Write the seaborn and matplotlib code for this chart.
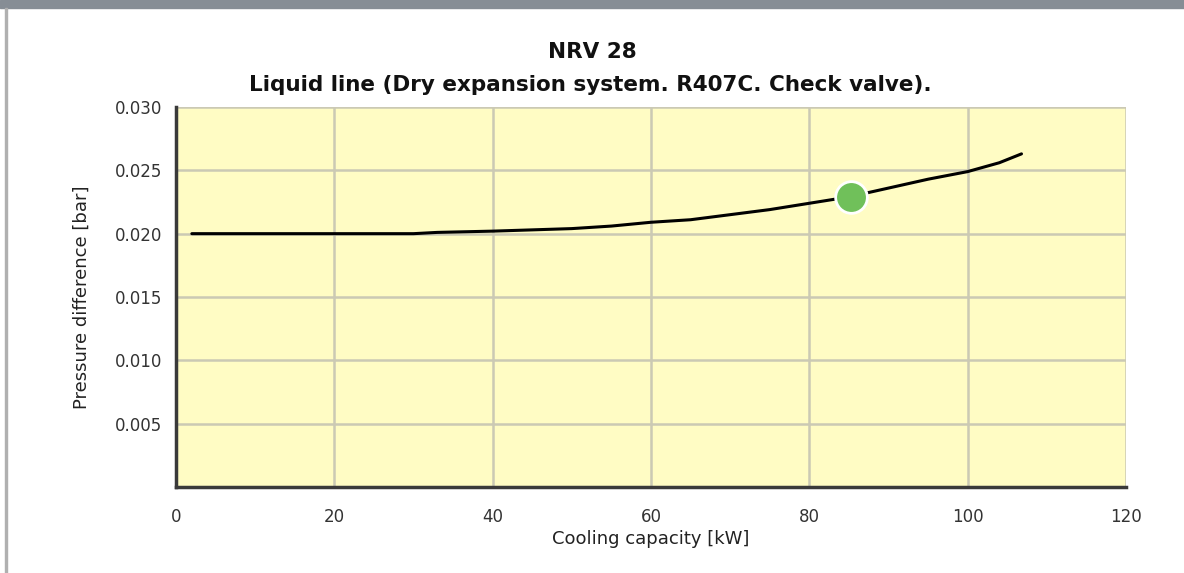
import matplotlib
matplotlib.use("Agg")
import matplotlib.pyplot as plt
import seaborn as sns
import pandas as pd
from matplotlib.patches import Rectangle

# Data
capacity_kw = [2, 10, 20, 30, 33, 40, 45, 50, 55, 60, 65, 70, 75, 80, 85, 90, 95, 100, 104, 106.8]
pressure_bar = [0.0200, 0.0200, 0.0200, 0.0200, 0.0201, 0.0202, 0.0203, 0.0204, 0.0206, 0.0209,
                0.0211, 0.0215, 0.0219, 0.0224, 0.0229, 0.0236, 0.0243, 0.0249, 0.0256, 0.0263]
point_kw = [85.3]
point_bar = [0.0229]
x_ticks = [0, 20, 40, 60, 80, 100, 120]
y_ticks = [0.005, 0.010, 0.015, 0.020, 0.025, 0.030]
y_tick_labels = ["0.005", "0.010", "0.015", "0.020", "0.025", "0.030"]
title_line1 = "NRV 28"
title_line2 = "Liquid line (Dry expansion system. R407C. Check valve)."

sns.set_theme(style="white")
plt.rcParams['font.family'] = ['DejaVu Sans']

fig = plt.figure(figsize=(11.84, 5.73), dpi=100)
ax = fig.add_axes([176/1184, 1 - 487/573, (1126-176)/1184, (487-107)/573])

curve = pd.DataFrame({"kw": capacity_kw, "bar": pressure_bar})
pt = pd.DataFrame({"kw": point_kw, "bar": point_bar})

ax.set_facecolor("#fffcc4")
sns.lineplot(data=curve, x="kw", y="bar", ax=ax, color="black", linewidth=2.2, zorder=3)
sns.scatterplot(data=pt, x="kw", y="bar", ax=ax, s=520, color="#70c05a",
                edgecolor="white", linewidth=2, zorder=4)

ax.set_xlim(0, 120)
ax.set_ylim(0, 0.030)
ax.set_xticks(x_ticks)
ax.set_yticks(y_ticks)
ax.set_yticklabels(y_tick_labels)
ax.grid(True, color="#cbc9b4", linewidth=1.8)
ax.set_axisbelow(True)

for s in ["top", "right"]:
    ax.spines[s].set_visible(False)
for s in ["left", "bottom"]:
    ax.spines[s].set_color("#3a3a3a")
    ax.spines[s].set_linewidth(2.5)

ax.tick_params(axis="both", which="both", length=6, width=1.5, color="#c0c0c0",
               labelsize=12, labelcolor="#333333")
ax.tick_params(axis="x", pad=9)
ax.tick_params(axis="y", pad=4)
ax.set_xlabel("Cooling capacity [kW]", fontsize=13, color="#222222", labelpad=3)
ax.set_ylabel("Pressure difference [bar]", fontsize=13, color="#222222", labelpad=17)

fig.text(592/1184, 1 - 52/573, title_line1, ha="center", va="center",
         fontsize=15.5, fontweight="bold", color="#111111")
fig.text(590/1184, 1 - 85/573, title_line2, ha="center", va="center",
         fontsize=15.5, fontweight="bold", color="#111111")

# page frame decorations
fig.patches.append(Rectangle((0, 1 - 8/573), 1, 8/573, transform=fig.transFigure,
                             color="#868d95", zorder=0))
fig.patches.append(Rectangle((5/1184, 0), 2/1184, 1 - 8/573, transform=fig.transFigure,
                             color="#b0b0b0", zorder=0))

fig.savefig("out.png", dpi=100)
